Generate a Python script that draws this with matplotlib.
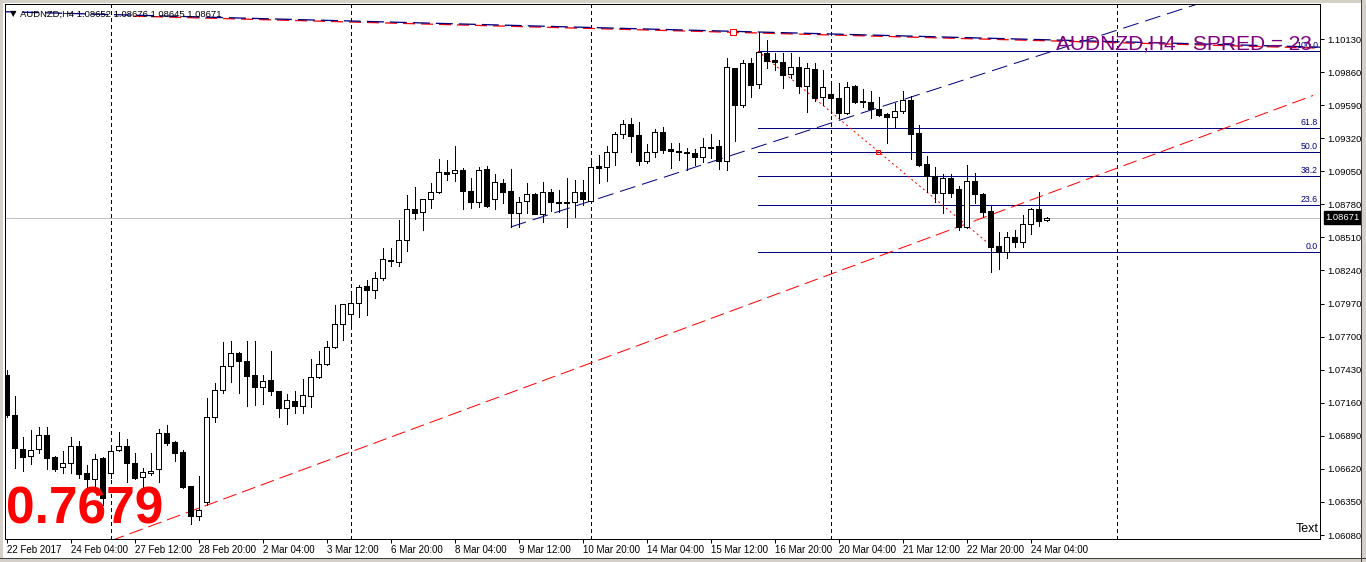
import matplotlib
matplotlib.use("Agg")
import matplotlib.pyplot as plt
from matplotlib.patches import Rectangle

plt.rcParams['font.family'] = ['Liberation Sans', 'DejaVu Sans']
plt.rcParams['lines.scale_dashes'] = False

# AUDNZD H4 candles, 22 Feb 2017 20:00 .. 24 Mar 2017 12:00
opens = [1.07387, 1.07060, 1.06782, 1.06725, 1.06782, 1.06897, 1.06717, 1.06635, 1.06668, 1.06807,
         1.06586, 1.06537, 1.06709, 1.06586, 1.06774, 1.06807, 1.06668, 1.06554, 1.06586, 1.06619,
         1.06913, 1.06840, 1.06758, 1.06480, 1.06235, 1.06350, 1.07044, 1.07264, 1.07460, 1.07566,
         1.07501, 1.07387, 1.07289, 1.07346, 1.07256, 1.07117, 1.07174, 1.07133, 1.07215, 1.07370,
         1.07476, 1.07615, 1.07803, 1.07885, 1.07974, 1.08113, 1.08081, 1.08179, 1.08326, 1.08309,
         1.08489, 1.08742, 1.08718, 1.08824, 1.08881, 1.09044, 1.09036, 1.09060, 1.08889, 1.08799,
         1.09069, 1.08824, 1.08954, 1.08889, 1.08709, 1.08807, 1.08864, 1.08701, 1.08881, 1.08799,
         1.08799, 1.08799, 1.08881, 1.08807, 1.09093, 1.09085, 1.09207, 1.09354, 1.09436, 1.09346,
         1.09134, 1.09207, 1.09371, 1.09232, 1.09216, 1.09207, 1.09199, 1.09167, 1.09248, 1.09256,
         1.09134, 1.09893, 1.09591, 1.09934, 1.09763, 1.10016, 1.09959, 1.09942, 1.09844, 1.09901,
         1.09746, 1.09885, 1.09656, 1.09681, 1.09648, 1.09526, 1.09746, 1.09624, 1.09616, 1.09558,
         1.09518, 1.09493, 1.09542, 1.09632, 1.09363, 1.09109, 1.09011, 1.08873, 1.08995, 1.08905,
         1.08595, 1.08971, 1.08864, 1.08726, 1.08440, 1.08391, 1.08513, 1.08473, 1.08620, 1.08742,
         1.08652]
highs = [1.07427, 1.07215, 1.06880, 1.06937, 1.06962, 1.06962, 1.06725, 1.06766, 1.06880, 1.06848,
         1.06652, 1.06742, 1.06717, 1.06782, 1.06921, 1.06864, 1.06750, 1.06627, 1.06750, 1.06946,
         1.06978, 1.06848, 1.06774, 1.06480, 1.06562, 1.07199, 1.07321, 1.07656, 1.07664, 1.07574,
         1.07664, 1.07664, 1.07387, 1.07583, 1.07256, 1.07231, 1.07256, 1.07354, 1.07517, 1.07583,
         1.07664, 1.07958, 1.07966, 1.08056, 1.08121, 1.08162, 1.08228, 1.08424, 1.08424, 1.08652,
         1.08856, 1.08922, 1.08824, 1.08954, 1.09150, 1.09142, 1.09256, 1.09077, 1.08995, 1.09085,
         1.09093, 1.09028, 1.08987, 1.09069, 1.08840, 1.08954, 1.08873, 1.08962, 1.08905, 1.08897,
         1.08995, 1.08979, 1.08979, 1.09150, 1.09183, 1.09256, 1.09371, 1.09469, 1.09485, 1.09452,
         1.09273, 1.09395, 1.09412, 1.09281, 1.09281, 1.09240, 1.09232, 1.09322, 1.09354, 1.09305,
         1.09975, 1.09893, 1.09959, 1.09975, 1.10187, 1.10122, 1.10016, 1.10016, 1.10016, 1.09983,
         1.09934, 1.09934, 1.09877, 1.09779, 1.09771, 1.09779, 1.09754, 1.09722, 1.09705, 1.09656,
         1.09526, 1.09607, 1.09705, 1.09665, 1.09428, 1.09175, 1.09085, 1.09028, 1.09028, 1.08930,
         1.09101, 1.09036, 1.08873, 1.08775, 1.08554, 1.08554, 1.08571, 1.08693, 1.08750, 1.08881,
         1.08676]
lows = [1.07044, 1.06627, 1.06603, 1.06660, 1.06750, 1.06619, 1.06603, 1.06586, 1.06586, 1.06546,
        1.06423, 1.06448, 1.06325, 1.06546, 1.06766, 1.06513, 1.06537, 1.06464, 1.06570, 1.06513,
        1.06815, 1.06684, 1.06464, 1.06170, 1.06203, 1.06325, 1.07003, 1.07240, 1.07329, 1.07240,
        1.07133, 1.07142, 1.07150, 1.07223, 1.07044, 1.06987, 1.07076, 1.07076, 1.07125, 1.07362,
        1.07468, 1.07607, 1.07672, 1.07778, 1.07860, 1.07876, 1.08015, 1.08162, 1.08277, 1.08277,
        1.08399, 1.08660, 1.08571, 1.08750, 1.08873, 1.08979, 1.08971, 1.08742, 1.08750, 1.08758,
        1.08758, 1.08742, 1.08791, 1.08595, 1.08595, 1.08709, 1.08701, 1.08636, 1.08726, 1.08718,
        1.08595, 1.08677, 1.08775, 1.08799, 1.08954, 1.08971, 1.09101, 1.09322, 1.09207, 1.09101,
        1.09118, 1.09167, 1.09199, 1.09077, 1.09142, 1.09060, 1.09101, 1.09126, 1.09158, 1.09069,
        1.09060, 1.09297, 1.09575, 1.09656, 1.09730, 1.09893, 1.09877, 1.09730, 1.09812, 1.09689,
        1.09534, 1.09624, 1.09591, 1.09526, 1.09485, 1.09518, 1.09607, 1.09575, 1.09485, 1.09501,
        1.09283, 1.09412, 1.09526, 1.09150, 1.09093, 1.08881, 1.08799, 1.08709, 1.08840, 1.08571,
        1.08587, 1.08791, 1.08677, 1.08228, 1.08252, 1.08342, 1.08432, 1.08432, 1.08538, 1.08603,
        1.08645]
closes = [1.07060, 1.06790, 1.06717, 1.06774, 1.06897, 1.06709, 1.06619, 1.06668, 1.06807, 1.06578,
          1.06537, 1.06701, 1.06382, 1.06766, 1.06807, 1.06668, 1.06546, 1.06595, 1.06603, 1.06913,
          1.06831, 1.06750, 1.06472, 1.06235, 1.06284, 1.07044, 1.07264, 1.07460, 1.07566, 1.07501,
          1.07378, 1.07289, 1.07338, 1.07256, 1.07117, 1.07182, 1.07133, 1.07223, 1.07370, 1.07476,
          1.07615, 1.07803, 1.07966, 1.07974, 1.08105, 1.08081, 1.08179, 1.08334, 1.08317, 1.08489,
          1.08742, 1.08709, 1.08824, 1.08881, 1.09044, 1.09028, 1.09060, 1.08889, 1.08799, 1.09060,
          1.08766, 1.08962, 1.08881, 1.08709, 1.08799, 1.08864, 1.08701, 1.08881, 1.08799, 1.08791,
          1.08791, 1.08881, 1.08824, 1.09085, 1.09077, 1.09207, 1.09354, 1.09436, 1.09338, 1.09134,
          1.09207, 1.09371, 1.09224, 1.09216, 1.09207, 1.09199, 1.09167, 1.09248, 1.09240, 1.09134,
          1.09901, 1.09591, 1.09934, 1.09754, 1.10024, 1.09950, 1.09942, 1.09836, 1.09901, 1.09746,
          1.09893, 1.09648, 1.09738, 1.09648, 1.09526, 1.09738, 1.09616, 1.09616, 1.09558, 1.09510,
          1.09493, 1.09542, 1.09632, 1.09354, 1.09101, 1.09011, 1.08873, 1.08995, 1.08873, 1.08595,
          1.08971, 1.08864, 1.08718, 1.08432, 1.08391, 1.08513, 1.08473, 1.08620, 1.08742, 1.08644,
          1.08671]

tick_bars = [0, 8, 16, 24, 32, 40, 48, 56, 64, 72, 80, 88, 96, 104, 112, 120, 128]
tick_labels = ["22 Feb 2017", "24 Feb 04:00", "27 Feb 12:00", "28 Feb 20:00", "2 Mar 04:00",
               "3 Mar 12:00", "6 Mar 20:00", "8 Mar 04:00", "9 Mar 12:00", "10 Mar 20:00",
               "14 Mar 04:00", "15 Mar 12:00", "16 Mar 20:00", "20 Mar 04:00", "21 Mar 12:00",
               "22 Mar 20:00", "24 Mar 04:00"]
price_ticks = [1.06080, 1.06350, 1.06620, 1.06890, 1.07160, 1.07430, 1.07700, 1.07970,
               1.08240, 1.08510, 1.08780, 1.09050, 1.09320, 1.09590, 1.09860, 1.10130]
grid_bars = [13, 43, 73, 103, 138.8]

fib_names = ["0.0", "23.6", "38.2", "50.0", "61.8", "100.0"]
fib_prices = [1.08391, 1.08775, 1.09011, 1.09207, 1.09403, 1.10032]
fib_from = (93.9, 1.10032)
fib_to = (124, 1.08391)

# trend lines as (bar, price) anchors
top_line = [(-0.2, 1.10353), (94, 1.10187)]
rise_blue = [(63, 1.08595), (130.4, 1.10024)]
rise_red = [(14.37, 1.06066), (130.4, 1.08873)]

px = 0.72  # one pixel in points
W, H = 1366, 562


def extend(p0, p1, x_start, x_end):
    k = (p1[1] - p0[1]) / (p1[0] - p0[0])
    return [x_start, x_end], [p0[1] + k * (x_start - p0[0]), p0[1] + k * (x_end - p0[0])]


fig = plt.figure(figsize=(W / 100, H / 100), dpi=100)
fig.patch.set_facecolor('white')
ax = fig.add_axes([5 / W, 23 / H, 1315 / W, 535 / H])
ax.set_xlim(-0.2125, 164.1625)
ax.set_ylim(1.060475, 1.104158)

# week separators
for g in grid_bars:
    ax.axvline(g, color='black', lw=px, dashes=(3 * px, 3 * px), zorder=1, antialiased=False)

# current price line
ax.axhline(closes[-1], color='#c0c0c0', lw=px, zorder=1)

# fibo
for name, p in zip(fib_names, fib_prices):
    ax.plot([fib_from[0], 164.2], [p, p], color='#000080', lw=px, zorder=2, antialiased=False)
    ax.annotate(name, xy=(0.9985, p), xycoords=('axes fraction', 'data'), xytext=(0, 0.6),
                textcoords='offset points', ha='right', va='bottom', fontsize=6.3, color='#000080')
ax.plot([fib_from[0], fib_to[0]], [fib_from[1], fib_to[1]], color='red', lw=px,
        dashes=(2 * px, 3 * px), zorder=2)

# trend lines
xs, ys = extend(top_line[0], top_line[1], 15.8, 165)
ax.plot(xs, [y - 0.00008 for y in ys], color='red', lw=1.3 * px, dashes=(12 * px, 6 * px), zorder=2)
xs, ys = extend(top_line[0], top_line[1], -1, 165)
ax.plot(xs, ys, color='#000080', lw=1.3 * px, dashes=(17 * px, 6 * px), zorder=2)
xs, ys = extend(rise_blue[0], rise_blue[1], 63, 165)
ax.plot(xs, ys, color='#000080', lw=px, dashes=(16 * px, 7 * px), zorder=2)
xs, ys = extend(rise_red[0], rise_red[1], 13, 163.3)
ax.plot(xs, ys, color='red', lw=px, dashes=(14 * px, 6 * px), zorder=2)

ax.plot([90.8], [1.10187], 's', ms=4, mfc='white', mec='red', mew=px, zorder=4)
ax.plot([108.9], [1.09207], 's', ms=3, mfc='none', mec='red', mew=px, zorder=4)

# candles
for i in range(len(opens)):
    o, h, l, c = opens[i], highs[i], lows[i], closes[i]
    ax.vlines(i, l, h, color='black', lw=px, zorder=3, antialiased=False)
    fc = 'white' if c >= o else 'black'
    ax.add_patch(Rectangle((i - 0.28, min(o, c)), 0.56, max(abs(c - o), 0.00001),
                           facecolor=fc, edgecolor='black', lw=px, zorder=4, antialiased=False))

for s in ax.spines.values():
    s.set_linewidth(px)
    s.set_color('black')

ax.set_xticks(tick_bars)
ax.set_xticklabels(tick_labels, ha='left')
ax.tick_params(axis='x', direction='out', length=3, width=px, labelsize=7, pad=1.5)
ax.yaxis.tick_right()
ax.set_yticks(price_ticks)
ax.set_yticklabels([f"{p:.5f}" for p in price_ticks])
ax.tick_params(axis='y', direction='out', length=3, width=px, labelsize=6.8, pad=2.5)

ax.annotate(f"{closes[-1]:.5f}", xy=(1.0, closes[-1]), xycoords=('axes fraction', 'data'),
            xytext=(4, 0), textcoords='offset points', ha='left', va='center', fontsize=6.8,
            color='white', bbox=dict(boxstyle='square,pad=0.2', fc='black', ec='black'), zorder=6)

# texts
fig.text(10 / W, 1 - 14 / H, "\u25bc", fontsize=6, va='center', family='DejaVu Sans')
fig.text(20.5 / W, 1 - 14 / H, "AUDNZD,H4 %.5f %.5f %.5f %.5f" % (opens[-1], highs[-1], lows[-1], closes[-1]),
         fontsize=6.8, va='center')
fig.text(1056 / W, 1 - 49.5 / H, "AUDNZD,H4   SPRED = 23", fontsize=15, color='#800080', va='baseline')
fig.text(6 / W, 1 - 523.5 / H, "0.7679", fontsize=37, color='red', weight='bold', va='baseline')
fig.text(1319 / W, 1 - 532 / H, "Text", fontsize=9, ha='right', va='baseline')

# window frame
for r in [(0, 0, W, 3), (0, 0, 3, H), (1362, 0, 4, H), (0, 558, W, 4)]:
    fig.patches.append(Rectangle((r[0] / W, 1 - (r[1] + r[3]) / H), r[2] / W, r[3] / H,
                                 transform=fig.transFigure, facecolor='#d4d0c8', edgecolor='none'))
fig.patches.append(Rectangle((1361 / W, 0), 1 / W, 1, transform=fig.transFigure, facecolor='#404040'))
fig.patches.append(Rectangle((0, 3 / H), 1, 1 / H, transform=fig.transFigure, facecolor='#404040'))

fig.savefig("out.png", dpi=100)
